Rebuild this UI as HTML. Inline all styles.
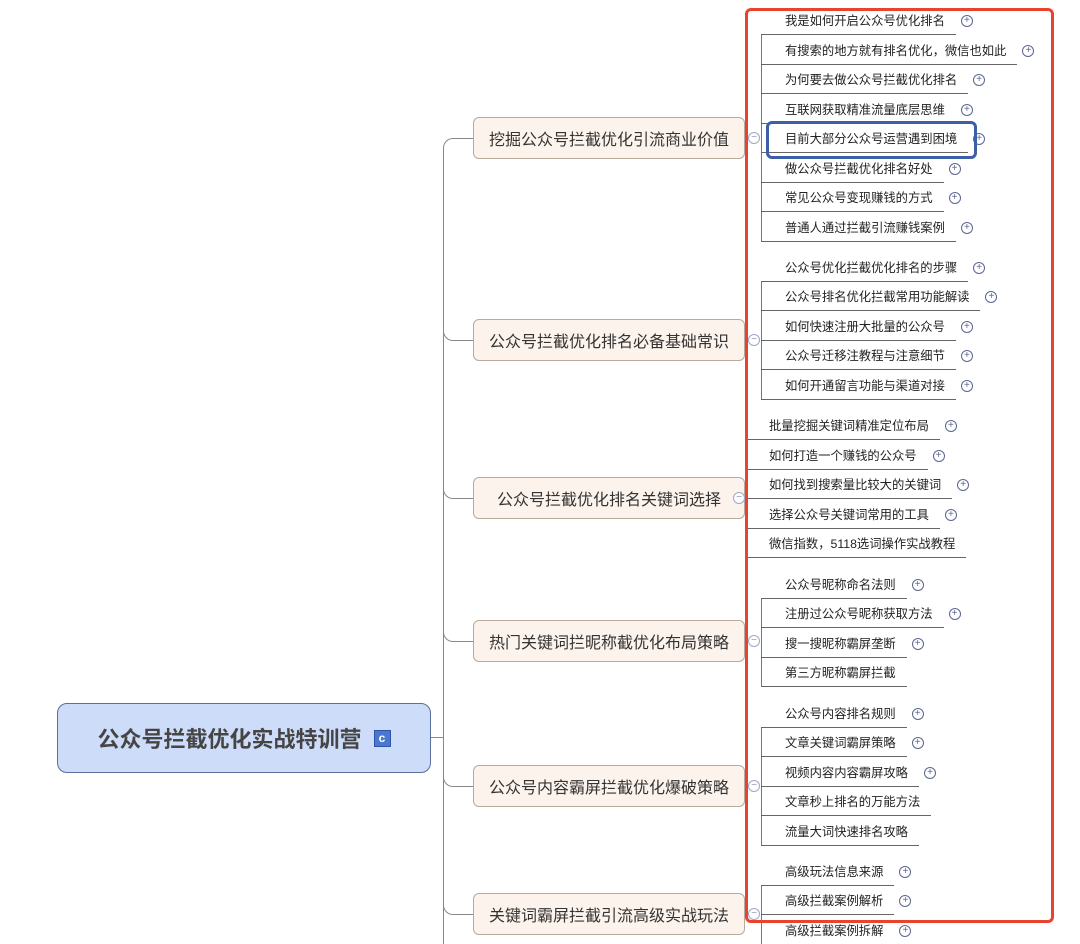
<!DOCTYPE html>
<html style="height:944px;overflow:hidden"><head><meta charset="utf-8"><style>
body{margin:0;width:1080px;height:944px;background:#fff;position:relative;overflow:hidden;font-family:"Liberation Sans","Noto Sans CJK SC",sans-serif;color:#222}
.a{position:absolute}
.root{left:57px;top:703px;width:372px;height:68px;background:#cddcf8;border:1px solid #5a6f9a;border-radius:10px;font-size:22px;font-weight:bold;color:#454545;display:flex;align-items:center;justify-content:center}
.c{display:inline-block;width:15px;height:15px;background:#4a78d0;color:#fff;font-size:12px;line-height:15px;text-align:center;margin-left:12px;border:1px solid #2d55a8}
.br{left:473px;width:270px;height:40px;background:#fcf3ec;border:1px solid #b9aa9a;border-radius:6px;font-size:16px;color:#333;display:flex;align-items:center;justify-content:center}
.lf{position:absolute;left:761px;height:23px;line-height:20px;font-size:12.3px;border-bottom:1px solid #666;padding:0 11px 0 24px;white-space:nowrap;color:#222}
.lf.g{left:746px;padding-left:23px}
.p{position:absolute;right:-17px;top:4px;width:10px;height:10px;border:1px solid #5b6690;border-radius:50%;font-size:10px;line-height:10px;text-align:center;color:#5b6690}
.m{position:absolute;width:10px;height:10px;border:1px solid #9aa8c8;border-radius:50%;background:#fff;font-size:10px;line-height:9px;text-align:center;color:#8894b8}
.v{position:absolute;width:1px;background:#777}
.h{position:absolute;height:1px;background:#777}
</style></head><body>
<div class="a" style="left:443px;top:138px;width:30px;height:806px;border-left:1px solid #888;border-top:1px solid #888;border-top-left-radius:10px;box-sizing:border-box"></div>
<div class="h" style="left:431px;top:737px;width:12px;background:#888"></div>
<div class="a" style="left:443px;top:330px;width:30px;height:10px;border-left:1px solid #888;border-bottom:1px solid #888;border-bottom-left-radius:10px"></div>
<div class="a" style="left:443px;top:488px;width:30px;height:10px;border-left:1px solid #888;border-bottom:1px solid #888;border-bottom-left-radius:10px"></div>
<div class="a" style="left:443px;top:631px;width:30px;height:10px;border-left:1px solid #888;border-bottom:1px solid #888;border-bottom-left-radius:10px"></div>
<div class="a" style="left:443px;top:776px;width:30px;height:10px;border-left:1px solid #888;border-bottom:1px solid #888;border-bottom-left-radius:10px"></div>
<div class="a" style="left:443px;top:904px;width:30px;height:10px;border-left:1px solid #888;border-bottom:1px solid #888;border-bottom-left-radius:10px"></div>

<div class="a root">公众号拦截优化实战特训营<span class="c">c</span></div>

<div class="a br" style="top:117px">挖掘公众号拦截优化引流商业价值</div>
<div class="a br" style="top:319px">公众号拦截优化排名必备基础常识</div>
<div class="a br" style="top:477px">公众号拦截优化排名关键词选择</div>
<div class="a br" style="top:620px">热门关键词拦昵称截优化布局策略</div>
<div class="a br" style="top:765px">公众号内容霸屏拦截优化爆破策略</div>
<div class="a br" style="top:893px">关键词霸屏拦截引流高级实战玩法</div>

<div class="v" style="left:761px;top:34px;height:208px"></div>
<div class="v" style="left:761px;top:281px;height:119px"></div>
<div class="v" style="left:746px;top:439px;height:120px"></div>
<div class="v" style="left:761px;top:598px;height:89px"></div>
<div class="v" style="left:761px;top:727px;height:119px"></div>
<div class="v" style="left:761px;top:885px;height:60px"></div>

<div class="m" style="left:748px;top:132px">−</div>
<div class="m" style="left:748px;top:334px">−</div>
<div class="m" style="left:733px;top:492px">−</div>
<div class="m" style="left:748px;top:635px">−</div>
<div class="m" style="left:748px;top:780px">−</div>
<div class="m" style="left:748px;top:908px">−</div>

<div class="lf" style="top:11px">我是如何开启公众号优化排名<span class="p">+</span></div>
<div class="lf" style="top:41px">有搜索的地方就有排名优化，微信也如此<span class="p">+</span></div>
<div class="lf" style="top:70px">为何要去做公众号拦截优化排名<span class="p">+</span></div>
<div class="lf" style="top:100px">互联网获取精准流量底层思维<span class="p">+</span></div>
<div class="lf" style="top:129px">目前大部分公众号运营遇到困境<span class="p">+</span></div>
<div class="lf" style="top:159px">做公众号拦截优化排名好处<span class="p">+</span></div>
<div class="lf" style="top:188px">常见公众号变现赚钱的方式<span class="p">+</span></div>
<div class="lf" style="top:218px">普通人通过拦截引流赚钱案例<span class="p">+</span></div>

<div class="lf" style="top:258px">公众号优化拦截优化排名的步骤<span class="p">+</span></div>
<div class="lf" style="top:287px">公众号排名优化拦截常用功能解读<span class="p">+</span></div>
<div class="lf" style="top:317px">如何快速注册大批量的公众号<span class="p">+</span></div>
<div class="lf" style="top:346px">公众号迁移注教程与注意细节<span class="p">+</span></div>
<div class="lf" style="top:376px">如何开通留言功能与渠道对接<span class="p">+</span></div>

<div class="lf g" style="top:416px">批量挖掘关键词精准定位布局<span class="p">+</span></div>
<div class="lf g" style="top:446px">如何打造一个赚钱的公众号<span class="p">+</span></div>
<div class="lf g" style="top:475px">如何找到搜索量比较大的关键词<span class="p">+</span></div>
<div class="lf g" style="top:505px">选择公众号关键词常用的工具<span class="p">+</span></div>
<div class="lf g" style="top:534px">微信指数，5118选词操作实战教程</div>

<div class="lf" style="top:575px">公众号昵称命名法则<span class="p">+</span></div>
<div class="lf" style="top:604px">注册过公众号昵称获取方法<span class="p">+</span></div>
<div class="lf" style="top:634px">搜一搜昵称霸屏垄断<span class="p">+</span></div>
<div class="lf" style="top:663px">第三方昵称霸屏拦截</div>

<div class="lf" style="top:704px">公众号内容排名规则<span class="p">+</span></div>
<div class="lf" style="top:733px">文章关键词霸屏策略<span class="p">+</span></div>
<div class="lf" style="top:763px">视频内容内容霸屏攻略<span class="p">+</span></div>
<div class="lf" style="top:792px">文章秒上排名的万能方法</div>
<div class="lf" style="top:822px">流量大词快速排名攻略</div>

<div class="lf" style="top:862px">高级玩法信息来源<span class="p">+</span></div>
<div class="lf" style="top:891px">高级拦截案例解析<span class="p">+</span></div>
<div class="lf" style="top:921px">高级拦截案例拆解<span class="p">+</span></div>

<div class="a" style="left:745px;top:8px;width:303px;height:909px;border:3px solid #e8432e;border-radius:6px"></div>
<div class="a" style="left:766px;top:121px;width:205px;height:32px;border:3px solid #3d5fa8;border-radius:6px"></div>
</body></html>
